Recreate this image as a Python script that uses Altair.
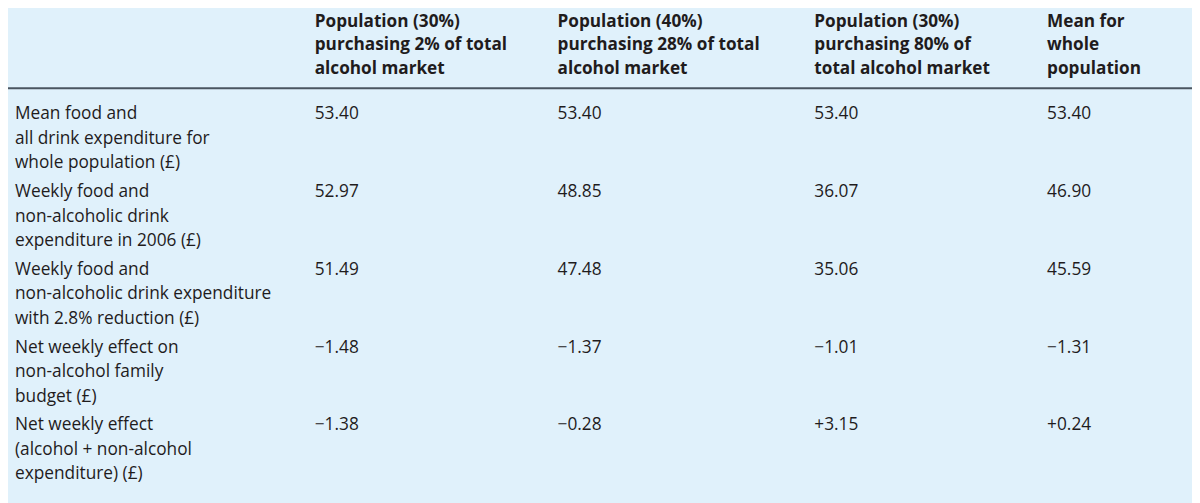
import altair as alt
import pandas as pd

# ---- table content ----
column_headers = [
    "",
    "Population (30%)\npurchasing 2% of total\nalcohol market",
    "Population (40%)\npurchasing 28% of total\nalcohol market",
    "Population (30%)\npurchasing 80% of\ntotal alcohol market",
    "Mean for\nwhole\npopulation",
]
row_labels = [
    "Mean food and\nall drink expenditure for\nwhole population (£)",
    "Weekly food and\nnon-alcoholic drink\nexpenditure in 2006 (£)",
    "Weekly food and\nnon-alcoholic drink expenditure\nwith 2.8% reduction (£)",
    "Net weekly effect on\nnon-alcohol family\nbudget (£)",
    "Net weekly effect\n(alcohol + non-alcohol\nexpenditure) (£)",
]
pop30_low = ["53.40", "52.97", "51.49", "\u22121.48", "\u22121.38"]
pop40_mid = ["53.40", "48.85", "47.48", "\u22121.37", "\u22120.28"]
pop30_high = ["53.40", "36.07", "35.06", "\u22121.01", "+3.15"]
mean_all = ["53.40", "46.90", "45.59", "\u22121.31", "+0.24"]

# ---- build long tables ----
header_rows = [
    {"col": i, "row": 0, "text": t} for i, t in enumerate(column_headers) if t
]
body_rows = []
for r, label in enumerate(row_labels):
    body_rows.append({"col": 0, "row": r + 1, "text": label})
    for c, series in enumerate([pop30_low, pop40_mid, pop30_high, mean_all]):
        body_rows.append({"col": c + 1, "row": r + 1, "text": series[r]})

header_df = pd.DataFrame(header_rows)
body_df = pd.DataFrame(body_rows)

W, H = 1185, 495
x_scale = alt.Scale(domain=[0, 1, 2, 3, 4], range=[7, 307, 550, 807, 1040])
y_scale = alt.Scale(domain=[0, 1, 2, 3, 4, 5], range=[19, 111, 189, 267, 345, 422.5])

FONT = "Open Sans"
TXT = "#1f1c1d"

header = alt.Chart(header_df).mark_text(
    align="left", baseline="alphabetic", lineBreak="\n", lineHeight=23.2,
    font=FONT, fontSize=17.2, fontWeight="bold", color=TXT,
).encode(
    x=alt.X("col:Q", scale=x_scale, axis=None),
    y=alt.Y("row:Q", scale=y_scale, axis=None),
    text="text:N",
)

body = alt.Chart(body_df).mark_text(
    align="left", baseline="alphabetic", lineBreak="\n", lineHeight=24.5,
    font=FONT, fontSize=17.3, color=TXT,
).encode(
    x=alt.X("col:Q", scale=x_scale, axis=None),
    y=alt.Y("row:Q", scale=y_scale, axis=None),
    text="text:N",
)

rule = alt.Chart(pd.DataFrame({"k": [0]})).mark_rule(
    color="#4a5560", strokeWidth=2
).encode(x=alt.value(0), x2=alt.value(W), y=alt.value(80))

chart = alt.layer(rule, header, body).properties(
    width=W, height=H, autosize=alt.AutoSizeParams(type="none"), padding=0,
    background="#e0f1fb",
).configure_view(stroke=None)

chart.save("out.html", embed_options={"renderer": "svg", "actions": False})
